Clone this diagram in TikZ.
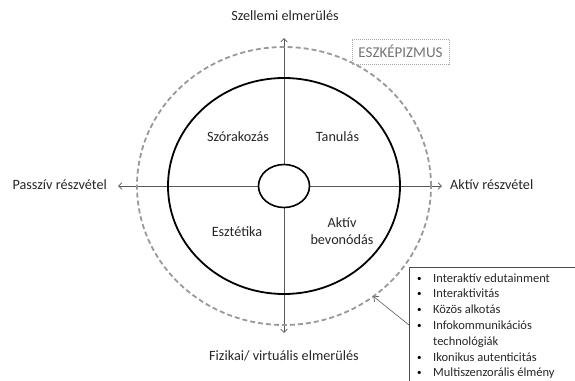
\documentclass[tikz,border=0pt]{standalone}
\usepackage{fontspec}
\setmainfont{Carlito}
\usetikzlibrary{arrows.meta,shapes.geometric}
\begin{document}
\begin{tikzpicture}[x=1pt,y=-1pt,
  lbl/.style={font=\fontsize{14.2}{17}\selectfont, text=black!85, inner sep=0pt},
  item/.style={font=\fontsize{12.5}{15}\selectfont, text=black!85, inner sep=0pt, anchor=base west},
  bul/.style={font=\fontsize{9}{10}\selectfont, text=black, inner sep=0pt, anchor=base west},
  axis/.style={draw=black!65, line width=0.7pt, {Straight Barb[length=3.5pt,width=6.5pt]}-{Straight Barb[length=3.5pt,width=6.5pt]}},
  ring/.style={ellipse, inner sep=0pt, outer sep=0pt},
]
\useasboundingbox (0,0) rectangle (575,380);
\coordinate (c) at (284,186);
\coordinate (L) at (118,186);
\coordinate (R) at (442,186);
\coordinate (T) at (284,38);
\coordinate (B) at (284,333);
\draw[axis] (L) -- (R);
\draw[axis] (T) -- (B);
% rings
\node[ring, draw=black, line width=1.8pt, minimum width=232, minimum height=216] (inner) at (c) {};
\node[ring, draw=black!40, line width=1.8pt, dash pattern=on 5pt off 3pt, minimum width=294, minimum height=278] (outer) at (c) {};
\node[ring, draw=black, fill=white, line width=1.6pt, minimum width=51, minimum height=43] (core) at (c) {};
% axis labels
\node[lbl, anchor=base] (top) at (285,20) {Szellemi elmerülés};
\node[lbl, anchor=base] (bot) at (284,360) {Fizikai/ virtuális elmerülés};
\node[lbl, anchor=base east] (left) at (107,189) {Passzív részvétel};
\node[lbl, anchor=base west] (right) at (450,189) {Aktív részvétel};
% quadrant labels
\node[lbl, anchor=base] (q1) at (238,141) {Szórakozás};
\node[lbl, anchor=base] (q2) at (337.5,141) {Tanulás};
\node[lbl, anchor=base] (q3) at (237,236) {Esztétika};
\node[lbl, anchor=base] (q4a) at (342,227) {Aktív};
\node[lbl, anchor=base] (q4b) at (342,244) {bevonódás};
% eszkepizmus
\node[draw=black!35, line width=0.5pt, dash pattern=on 1pt off 1pt, text=black!55,
      font=\fontsize{15}{18}\selectfont, minimum width=97, minimum height=25, inner sep=0pt] (esz) at (400.5,51.5) {ESZKÉPIZMUS};
% list box
\node[anchor=north west, minimum width=180, minimum height=130, inner sep=0pt] (lst) at (409,267) {};
\draw[black!70, line width=0.6pt] (lst.north east) -- (lst.north west) -- (lst.south west);
\coordinate (src) at (409,325);
\draw[black!65, line width=0.6pt, -{Straight Barb[length=4pt,width=7pt]}] (src) -- (outer.-51);
\node[item] (i1) at (433,282) {Interaktív edutainment};
\node[item] (i2) at (433,297.8) {Interaktivitás};
\node[item] (i3) at (433,313.6) {Közös alkotás};
\node[item] (i4) at (433,329.4) {Infokommunikációs};
\node[item] (i4b) at (433,345.2) {technológiák};
\node[item] (i5) at (433,361) {Ikonikus autenticitás};
\node[item] (i6) at (433,376.8) {Multiszenzorális élmény};
\foreach \n in {i1,i2,i3,i4,i5,i6}{
  \node[bul] at ([xshift=-16pt,yshift=1pt]\n.base west) {•};
}
\end{tikzpicture}
\end{document}
